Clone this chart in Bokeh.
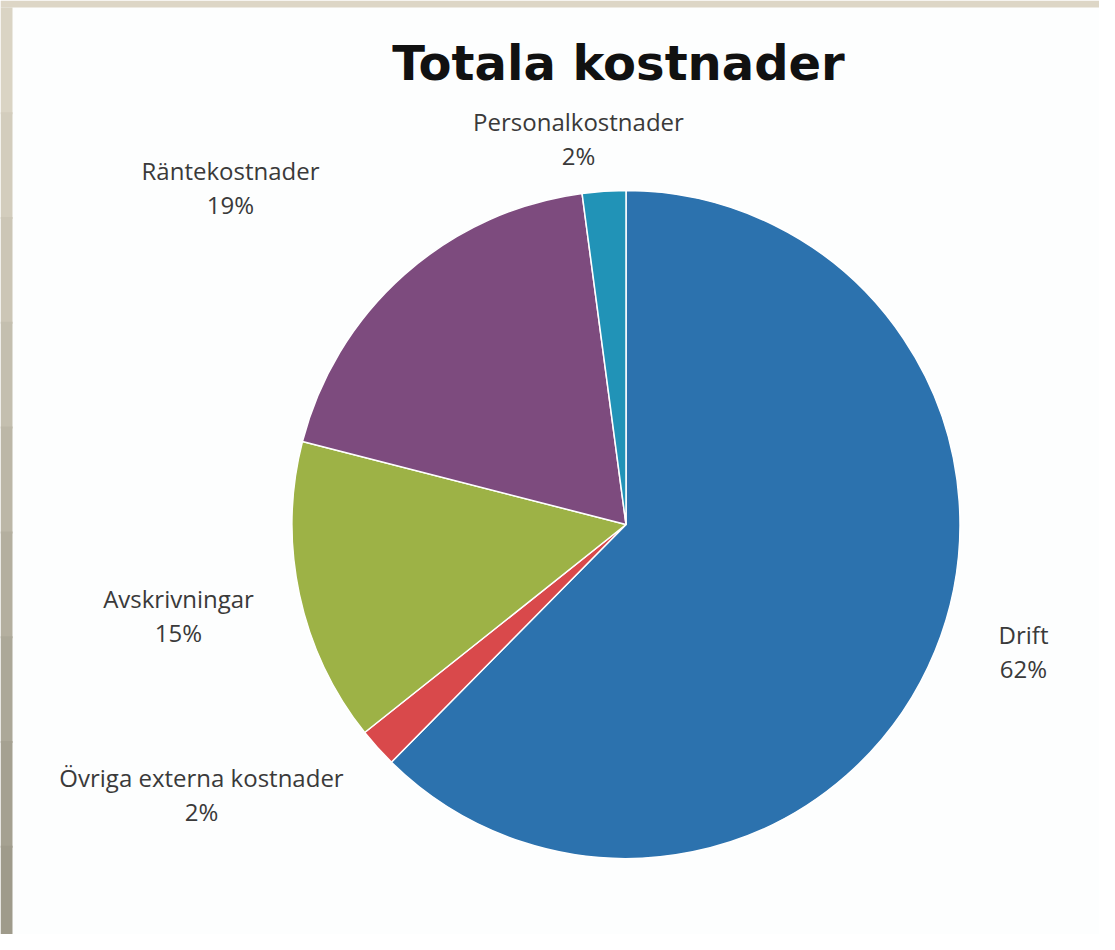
import math
from bokeh.plotting import figure
from bokeh.models import Range1d, ColumnDataSource, BoxAnnotation
from bokeh.core.properties import value
from bokeh.embed import file_html
from bokeh.resources import INLINE

# ---- data ----
title_text = "Totala kostnader"
categories = ["Drift", "Övriga externa kostnader", "Avskrivningar", "Räntekostnader", "Personalkostnader"]
shares = [62.4, 1.9, 14.7, 18.9, 2.1]
colors = ["#2c72ae", "#d9494b", "#9db246", "#7d4b7e", "#2193b7"]

# ---- layout (screen pixel coordinates) ----
W, H = 1099, 934
cx_page, cy_page, radius = 625.5, 524.0, 334.0
label_pos = [(1023, 634), (201, 777), (178, 598), (230, 170), (578, 121)]
line_gap = 34

def py(y):
    return 950 - y

p = figure(width=W, height=H, output_backend="svg", toolbar_location=None,
           x_range=Range1d(0, W), y_range=Range1d(950 - H, 950),
           min_border=0, background_fill_color="#fdfefe", border_fill_color="#fdfefe")
p.axis.visible = False
p.grid.visible = False
p.outline_line_color = None

# scanned-page frame (decoration)
p.add_layout(BoxAnnotation(left=0, right=W, bottom=py(7), top=950,
                           fill_color="#ddd6c6", fill_alpha=1, line_color=None))
bands = ["#dad4c4", "#d3cdbd", "#ccc6b6", "#c4bfaf", "#bcb7a7", "#b4af9f", "#aca898", "#a5a191", "#9f9b8b"]
n = len(bands)
step = (950 - 7) / n
for i, c in enumerate(bands):
    p.add_layout(BoxAnnotation(left=0, right=12, top=py(7 + i * step),
                               bottom=py(7 + (i + 1) * step + 2),
                               fill_color=c, fill_alpha=1, line_color=None))

total = sum(shares)
starts, ends = [], []
cum = 0.0
for s in shares:
    a0 = math.pi / 2 - 2 * math.pi * cum / total
    cum += s
    a1 = math.pi / 2 - 2 * math.pi * cum / total
    starts.append(a0)
    ends.append(a1)

src = ColumnDataSource(dict(x=[cx_page] * len(shares), y=[py(cy_page)] * len(shares),
                            start=starts, end=ends, color=colors))
p.wedge(x="x", y="y", radius=radius, start_angle="start", end_angle="end",
        direction="clock", fill_color="color", line_color="white", line_width=1.5, source=src)

pcts = [f"{round(s / total * 100)}%" for s in shares]
lsrc = ColumnDataSource(dict(
    x=[a for a, b in label_pos],
    y1=[py(b) for a, b in label_pos],
    y2=[py(b + line_gap) for a, b in label_pos],
    name=categories, pct=pcts))
for col in ("y1", "y2"):
    p.text(x="x", y=col, text="name" if col == "y1" else "pct", source=lsrc,
           text_align="center", text_baseline="middle",
           text_font=value("Open Sans"), text_font_size="24px", text_color="#3a3a3a")

p.text(x=[618], y=[py(62)], text=[title_text], text_align="center", text_baseline="middle",
       text_font=value("DejaVu Sans"), text_font_style="bold", text_font_size="48px",
       text_color="#111111")

open("out.html", "w").write(file_html(p, INLINE))
